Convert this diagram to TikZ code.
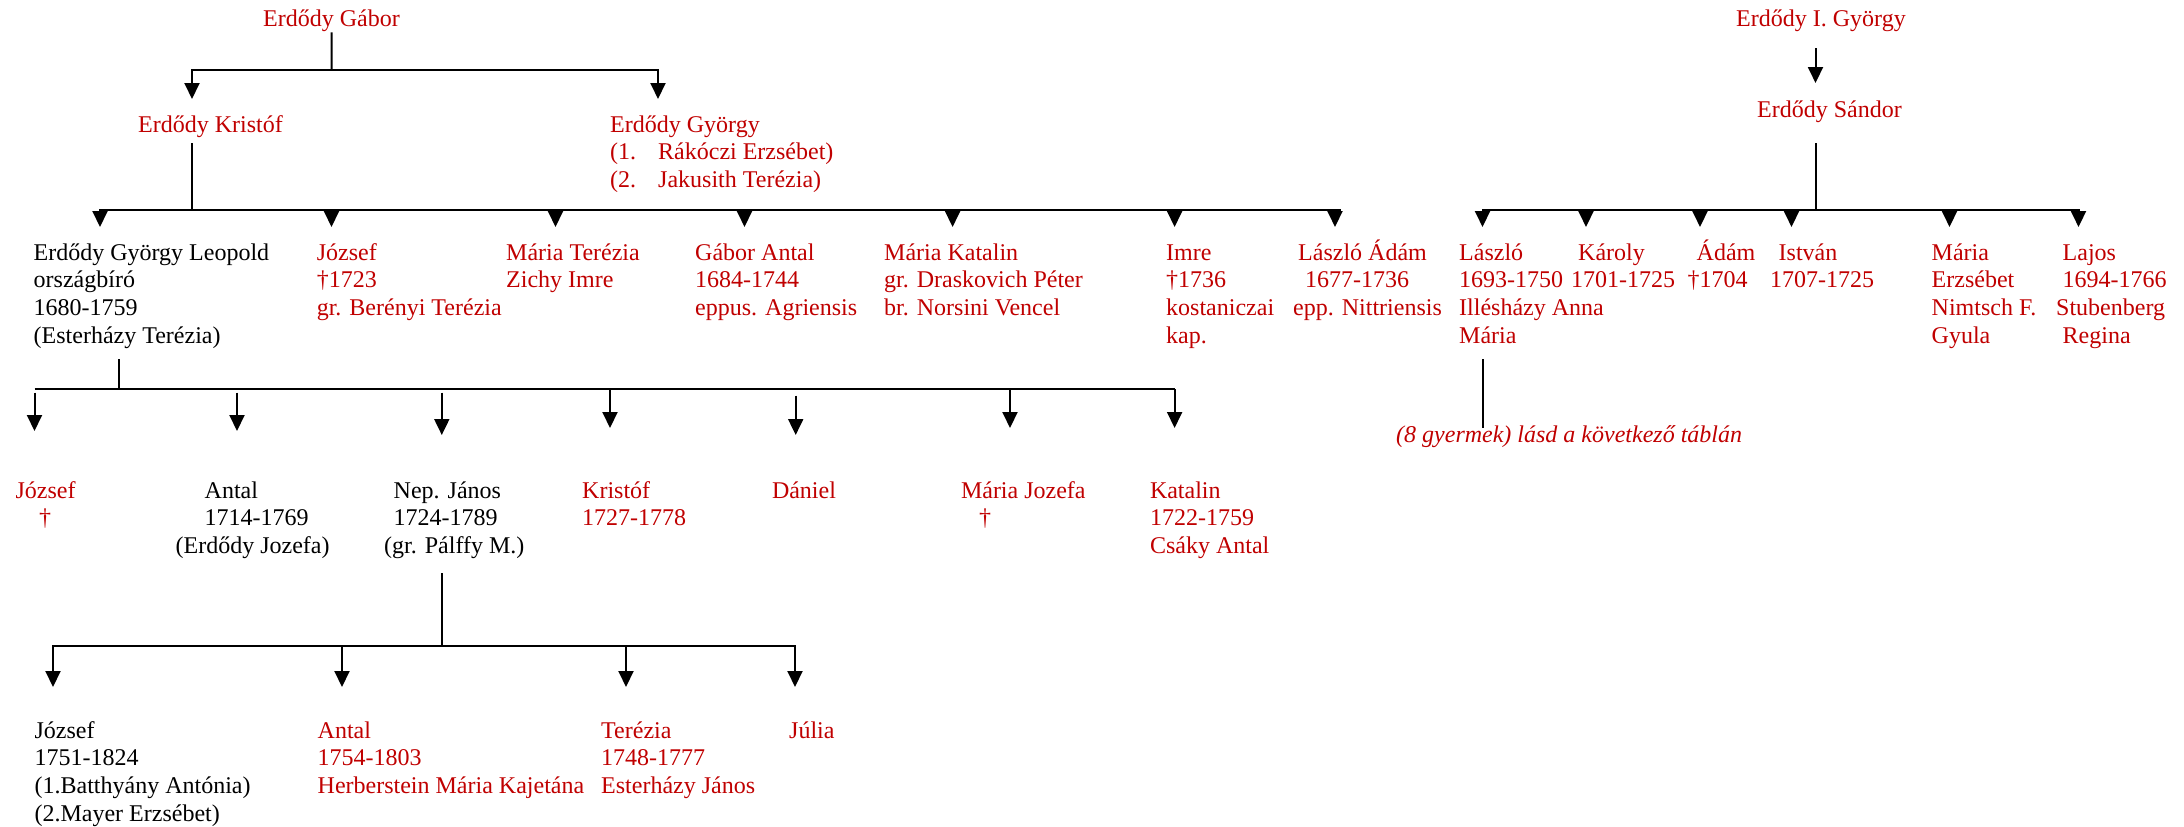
\documentclass[tikz,border=0pt]{standalone}
\usepackage{fontspec}
\setmainfont{Liberation Serif}
\usetikzlibrary{arrows.meta}
\definecolor{rd}{HTML}{C00000}
\newcommand{\pstack}[1]{\begin{tabular}[t]{@{}l@{}}#1\end{tabular}}
\begin{document}
\begin{tikzpicture}[x=1pt,y=-1pt,
  txt/.style={inner sep=0pt, anchor=base west, font=\fontsize{24}{27.7}\selectfont},
  rp/.style={txt,text=rd},
  bp/.style={txt,text=black},
  ln/.style={line width=2pt},
  arr/.style={ln,-{Triangle[width=15pt,length=16pt]}}]
\useasboundingbox (0,0) rectangle (2184,827);

% ---- top left
\node[rp] (gabor) at (263,27) {Erdődy Gábor};
\node[rp] (kristof) at (138,132) {Erdődy Kristóf};
\node[rp] (gyorgy) at (610,132) {\pstack{Erdődy György\\\makebox[48pt][l]{(1.}Rákóczi Erzsébet)\\\makebox[48pt][l]{(2.}Jakusith Terézia)}};

% ---- top right
\node[rp] (gyi) at (1736,27) {Erdődy I. György};
\node[rp] (sandor) at (1757,117) {Erdődy Sándor};

% ---- row 2
\node[bp] (leopold) at (33.5,260) {\pstack{Erdődy György Leopold\\országbíró\\1680-1759\\(Esterházy Terézia)}};
\node[rp] (jozsef1) at (316.6,260) {\pstack{József\\†1723\\gr. Berényi Terézia}};
\node[rp] (mariat) at (506,260) {\pstack{Mária Terézia\\Zichy Imre}};
\node[rp] (gabora) at (695,260) {\pstack{Gábor Antal\\1684-1744\\eppus. Agriensis}};
\node[rp] (mariak) at (884,260) {\pstack{Mária Katalin\\gr. Draskovich Péter\\br. Norsini Vencel}};
\node[rp] (imre) at (1166,260) {\pstack{Imre\\†1736\\kostaniczai\\kap.}};
\node[rp] (laszloa) at (1293,260) {\pstack{\hspace*{5pt}László Ádám\\\hspace*{12pt}1677-1736\\epp. Nittriensis}};
\node[rp] (laszlo) at (1459,260) {\pstack{László\\1693-1750\\Illésházy Anna\\Mária}};
\node[rp] (karoly) at (1571,260) {\pstack{\hspace*{7pt}Károly\\1701-1725}};
\node[rp] (adam) at (1687.5,260) {\pstack{\hspace*{9pt}Ádám\\†1704}};
\node[rp] (istvan) at (1770,260) {\pstack{\hspace*{8.5pt}István\\1707-1725}};
\node[rp] (mariae) at (1931.5,260) {\pstack{Mária\\Erzsébet\\Nimtsch F.\\Gyula}};
\node[rp] (lajos) at (2056,260) {\pstack{\hspace*{6.5pt}Lajos\\\hspace*{6.5pt}1694-1766\\Stubenberg\\\hspace*{6.5pt}Regina}};
\node[rp,font=\fontsize{24}{27.7}\selectfont\itshape] (gyermek) at (1396,442) {(8 gyermek) lásd a következő táblán};

% ---- row 3
\node[rp] (jozsef2) at (15.4,498) {\pstack{József\\\hspace*{23.6pt}†}};
\node[bp] (antal1) at (175.5,498) {\pstack{\hspace*{29pt}Antal\\\hspace*{29pt}1714-1769\\(Erdődy Jozefa)}};
\node[bp] (nepjanos) at (384,498) {\pstack{\hspace*{9.5pt}Nep. János\\\hspace*{9.5pt}1724-1789\\(gr. Pálffy M.)}};
\node[rp] (kristof2) at (582,498) {\pstack{Kristóf\\1727-1778}};
\node[rp] (daniel) at (771.8,498) {Dániel};
\node[rp] (mariaj) at (960.8,498) {\pstack{Mária Jozefa\\\hspace*{18pt}†}};
\node[rp] (katalin) at (1149.8,498) {\pstack{Katalin\\1722-1759\\Csáky Antal}};

% ---- row 4
\node[bp] (jozsef3) at (34.4,738) {\pstack{József\\1751-1824\\(1.Batthyány Antónia)\\(2.Mayer Erzsébet)}};
\node[rp] (antal2) at (317.5,738) {\pstack{Antal\\1754-1803\\Herberstein Mária Kajetána}};
\node[rp] (terezia) at (601,738) {\pstack{Terézia\\1748-1777\\Esterházy János}};
\node[rp] (julia) at (789,738) {Júlia};

% ---- junction coordinates
\coordinate (g-bar) at (331.5,70);
\coordinate (k-top) at (192,143);
\coordinate (k-bar) at (192,210);
\coordinate (l-top) at (118.7,359);
\coordinate (l-bar) at (118.7,389);
\coordinate (n-top) at (442,573);
\coordinate (n-bar) at (442,646);
\coordinate (i-top) at (1815.5,48);
\coordinate (i-tip) at (1815.5,83);
\coordinate (s-top) at (1815.5,143);
\coordinate (s-bar) at (1815.5,210);
\coordinate (z-top) at (1483,359);
\coordinate (z-end) at (1483,428);

% tips
\coordinate (t-kristof) at (192,99);
\coordinate (t-gyorgy) at (658,99);
\coordinate (t-leopold) at (100,227);
\coordinate (t-jozsef1) at (331.5,227);
\coordinate (t-mariat) at (555.5,227);
\coordinate (t-gabora) at (744.5,227);
\coordinate (t-mariak) at (952.6,227);
\coordinate (t-imre) at (1174.6,227);
\coordinate (t-laszloa) at (1335,227);
\coordinate (t-jozsef2) at (34.5,431);
\coordinate (t-antal1) at (237,431);
\coordinate (t-nepjanos) at (441.8,435);
\coordinate (t-kristof2) at (610,428);
\coordinate (t-daniel) at (795.7,435);
\coordinate (t-mariaj) at (1010,428);
\coordinate (t-katalin) at (1174.6,428);
\coordinate (t-jozsef3) at (53,687);
\coordinate (t-antal2) at (342,687);
\coordinate (t-terezia) at (626,687);
\coordinate (t-julia) at (795,687);
\coordinate (t-laszlo) at (1482.5,227);
\coordinate (t-karoly) at (1586,227);
\coordinate (t-adam) at (1700,227);
\coordinate (t-istvan) at (1791.5,227);
\coordinate (t-mariae) at (1949.5,227);
\coordinate (t-lajos) at (2078.5,227);

% ---- connectors
\draw[ln] (gabor.south) -- (g-bar);
\foreach \t in {kristof,gyorgy} \draw[arr] (g-bar) -| (t-\t);

\draw[ln] (k-top) -- (k-bar);
\draw[ln] (k-bar) -- ++(1149,0);
\foreach \t in {leopold,jozsef1,mariat,gabora,mariak,imre,laszloa} \draw[arr] (k-bar) -| (t-\t);

\draw[ln] (l-top) -- (l-bar);
\draw[ln] (t-jozsef2 |- l-bar) -- (t-katalin |- l-bar);
\foreach \t in {jozsef2,antal1,nepjanos} \draw[arr] ([yshift=-3.5pt]t-\t |- l-bar) -- (t-\t);
\draw[arr] ([yshift=-6.5pt]t-daniel |- l-bar) -- (t-daniel);
\foreach \t in {kristof2,mariaj,katalin} \draw[arr] (t-\t |- l-bar) -- (t-\t);

\draw[ln] (n-top) -- (n-bar);
\foreach \t in {jozsef3,antal2,terezia,julia} \draw[arr] (n-bar) -| (t-\t);

\draw[arr] (i-top) -- (i-tip);
\draw[ln] (s-top) -- (s-bar);
\foreach \t in {laszlo,karoly,adam,istvan,mariae,lajos} \draw[arr] (s-bar) -| (t-\t);

\draw[ln] (z-top) -- (z-end);
\end{tikzpicture}
\end{document}
